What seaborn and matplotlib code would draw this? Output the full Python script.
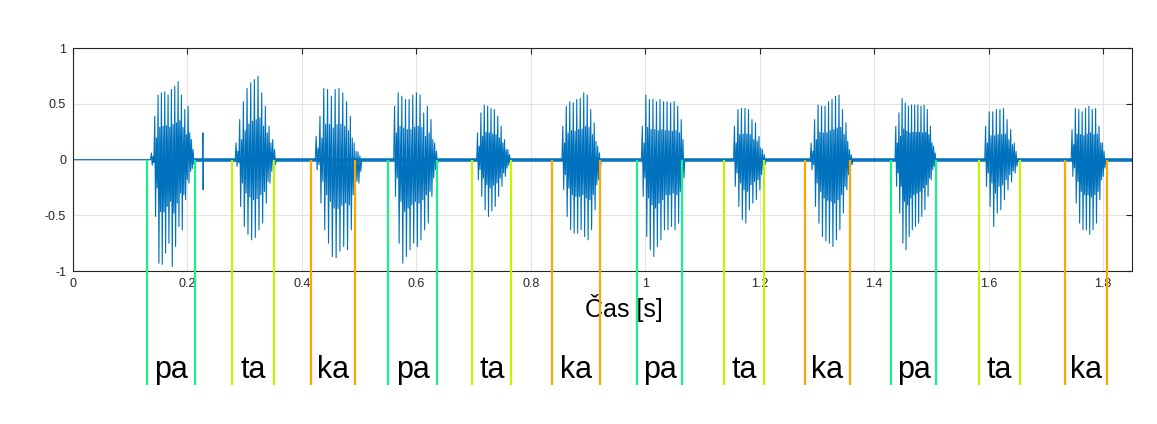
import matplotlib
matplotlib.use("Agg")
import matplotlib.pyplot as plt
import numpy as np
import pandas as pd
import seaborn as sns

# syllable boundary markers [s] (start, end) and labels
syllables = ["pa", "ta", "ka", "pa", "ta", "ka", "pa", "ta", "ka", "pa", "ta", "ka"]
seg_start = [0.130, 0.278, 0.416, 0.550, 0.698, 0.837, 0.986, 1.138, 1.279, 1.430, 1.584, 1.733]
seg_end = [0.214, 0.351, 0.493, 0.637, 0.766, 0.921, 1.065, 1.208, 1.358, 1.508, 1.655, 1.807]
seg_colors = {"pa": "#1cf08e", "ta": "#c4f500", "ka": "#ffa600"}

# voiced bursts: onset / offset [s] and peak amplitudes of the glottal pulses
burst_on = [0.137, 0.285, 0.425, 0.562, 0.707, 0.856, 0.995, 1.156, 1.290, 1.438, 1.595, 1.746]
burst_off = [0.207, 0.349, 0.498, 0.632, 0.760, 0.917, 1.063, 1.205, 1.357, 1.504, 1.645, 1.799]

b1_up = [0.06, 0.39, 0.58, 0.60, 0.61, 0.58, 0.63, 0.66, 0.70, 0.58, 0.45, 0.48, 0.18]
b1_lo = [-0.05, -0.51, -0.93, -0.94, -0.84, -0.75, -0.96, -0.78, -0.60, -0.63, -0.36, -0.21, -0.08]
b2_up = [0.15, 0.36, 0.52, 0.64, 0.69, 0.72, 0.75, 0.60, 0.48, 0.30, 0.18]
b2_lo = [-0.06, -0.42, -0.60, -0.67, -0.72, -0.70, -0.63, -0.57, -0.39, -0.21, -0.09]
b3_up = [0.21, 0.39, 0.64, 0.63, 0.57, 0.63, 0.64, 0.60, 0.52, 0.39, 0.15, 0.07]
b3_lo = [-0.09, -0.39, -0.63, -0.75, -0.87, -0.88, -0.82, -0.78, -0.81, -0.63, -0.39, -0.21]
b4_up = [0.48, 0.60, 0.57, 0.54, 0.54, 0.58, 0.60, 0.58, 0.42, 0.48, 0.36, 0.15]
b4_lo = [-0.33, -0.75, -0.93, -0.87, -0.81, -0.75, -0.78, -0.72, -0.63, -0.57, -0.33, -0.09]
b5_up = [0.24, 0.42, 0.49, 0.48, 0.46, 0.45, 0.39, 0.30, 0.18, 0.09]
b5_lo = [-0.18, -0.33, -0.45, -0.51, -0.46, -0.42, -0.33, -0.24, -0.15, -0.05]
b6_up = [0.30, 0.48, 0.52, 0.51, 0.54, 0.55, 0.60, 0.58, 0.45, 0.33, 0.12]
b6_lo = [-0.27, -0.51, -0.63, -0.66, -0.66, -0.63, -0.69, -0.72, -0.63, -0.45, -0.18]
b7_up = [0.30, 0.58, 0.54, 0.54, 0.52, 0.54, 0.52, 0.52, 0.51, 0.52, 0.48, 0.36]
b7_lo = [-0.33, -0.69, -0.81, -0.87, -0.78, -0.72, -0.63, -0.63, -0.60, -0.63, -0.57, -0.33]
b8_up = [0.30, 0.45, 0.46, 0.46, 0.45, 0.36, 0.33, 0.21, 0.09]
b8_lo = [-0.24, -0.42, -0.54, -0.57, -0.45, -0.39, -0.36, -0.27, -0.09]
b9_up = [0.15, 0.36, 0.49, 0.48, 0.48, 0.52, 0.54, 0.57, 0.58, 0.45, 0.33, 0.09]
b9_lo = [-0.09, -0.42, -0.57, -0.69, -0.73, -0.75, -0.78, -0.72, -0.63, -0.48, -0.27, -0.09]
b10_up = [0.30, 0.42, 0.55, 0.51, 0.48, 0.49, 0.49, 0.49, 0.48, 0.49, 0.45, 0.30, 0.12]
b10_lo = [-0.24, -0.48, -0.75, -0.81, -0.69, -0.63, -0.60, -0.57, -0.51, -0.45, -0.33, -0.18, -0.06]
b11_up = [0.30, 0.43, 0.43, 0.45, 0.45, 0.46, 0.36, 0.27, 0.15]
b11_lo = [-0.24, -0.42, -0.60, -0.48, -0.45, -0.36, -0.27, -0.20, -0.12]
b12_up = [0.27, 0.46, 0.45, 0.43, 0.46, 0.48, 0.45, 0.46, 0.30, 0.15]
b12_lo = [-0.15, -0.39, -0.57, -0.63, -0.63, -0.67, -0.63, -0.57, -0.36, -0.15]

# isolated click after the first syllable
click_t = [0.227]
click_up = [0.24]
click_lo = [-0.27]

# background noise between syllables
noise_span = [0.207, 1.85]

x_ticks = [0, 0.2, 0.4, 0.6, 0.8, 1.0, 1.2, 1.4, 1.6, 1.8]
x_labels = ["0", "0.2", "0.4", "0.6", "0.8", "1", "1.2", "1.4", "1.6", "1.8"]
y_ticks = [-1, -0.5, 0, 0.5, 1]
y_labels = ["-1", "-0.5", "0", "0.5", "1"]

ups = [b1_up, b2_up, b3_up, b4_up, b5_up, b6_up, b7_up, b8_up, b9_up, b10_up, b11_up, b12_up]
los = [b1_lo, b2_lo, b3_lo, b4_lo, b5_lo, b6_lo, b7_lo, b8_lo, b9_lo, b10_lo, b11_lo, b12_lo]

# build waveform table: zero baseline, then each burst as a train of pulses
# (main peak, main trough, then a weaker ringing swing inside each period)
t_vals = [0.0]
a_vals = [0.0]
for on, off, up, lo in zip(burst_on, burst_off, ups, los):
	pulse_t = np.linspace(on, off, len(up))
	q = (off - on) / (len(up) - 1) / 4
	t_vals.append(on - q)
	a_vals.append(0.0)
	for t, u, l in zip(pulse_t, up, lo):
		t_vals += [t, t + q, t + 2 * q, t + 3 * q]
		a_vals += [u, l, 0.5 * u, 0.5 * l]
	t_vals.append(off + 4 * q)
	a_vals.append(0.0)
	if on == burst_on[0]:
		for ct, cu, cl in zip(click_t, click_up, click_lo):
			t_vals += [ct - 0.0005, ct, ct + 0.0004, ct + 0.0009]
			a_vals += [0.0, cu, cl, 0.0]
t_vals.append(1.85)
a_vals.append(0.0)
wave = pd.DataFrame({"t": t_vals, "amp": a_vals})

sns.set_theme(style="white")
plt.rcParams["font.family"] = ["Liberation Sans", "DejaVu Sans"]

fig = plt.figure(figsize=(11.57, 4.24), dpi=100)
ax = fig.add_axes([0.0631, 0.3608, 0.9149, 0.5253])

wave_color = "#0072BD"
sns.lineplot(
	x=noise_span, y=[0, 0], ax=ax, color=wave_color, linewidth=2.6, alpha=0.95,
)
sns.lineplot(
	data=wave, x="t", y="amp", ax=ax, sort=False, estimator=None,
	color=wave_color, linewidth=0.8,
)

# syllable boundary lines hanging from the zero line below the axes
for name, s, e in zip(syllables, seg_start, seg_end):
	c = seg_colors[name]
	ax.vlines([s, e], -2.02, 0, colors=c, linewidth=1.6, clip_on=False, zorder=5)
	ax.text((s + e) / 2, -1.957, name, ha="center", va="baseline", fontsize=22,
		color="black", clip_on=False)

ax.set_xlim(0, 1.85)
ax.set_ylim(-1, 1)
ax.set_xticks(x_ticks)
ax.set_xticklabels(x_labels)
ax.set_yticks(y_ticks)
ax.set_yticklabels(y_labels)
ax.grid(True, color="#e3e3e3", linewidth=0.8)
ax.set_axisbelow(True)
ax.tick_params(
	direction="in", top=True, right=True, length=4, width=0.8,
	colors="#262626", labelsize=9, pad=5,
)
for sp in ax.spines.values():
	sp.set_color("#262626")
	sp.set_linewidth(0.8)

ax.set_xlabel("Čas [s]", fontsize=18, color="black")
ax.xaxis.set_label_coords(0.52, -0.165)
ax.xaxis.label.set_va("center")
ax.set_ylabel("")

fig.savefig("out.png", dpi=100, facecolor="white")
